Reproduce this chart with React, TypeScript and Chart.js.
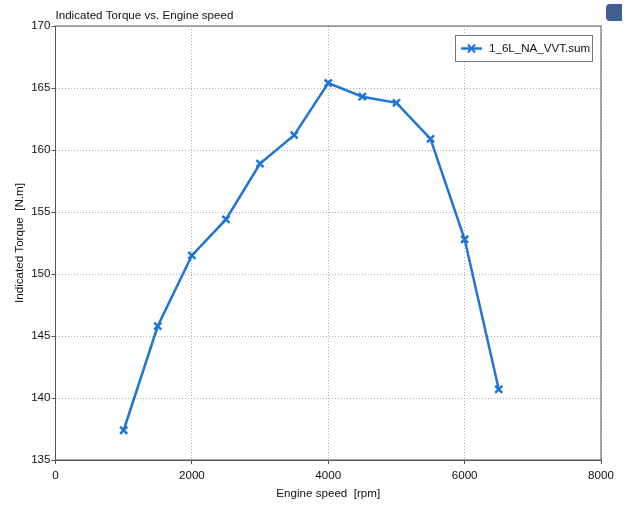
import React, { useEffect, useRef } from "react";
import { Chart, registerables } from "chart.js";

Chart.register(...registerables);

const speeds = [1000, 1500, 2000, 2500, 3000, 3500, 4000, 4500, 5000, 5500, 6000, 6500];
const torque = [137.4, 145.8, 151.5, 154.4, 158.9, 161.2, 165.4, 164.3, 163.8, 160.9, 152.8, 140.7];
const seriesName = "1_6L_NA_VVT.sum";
const titleText = "Indicated Torque vs. Engine speed";
const xTitle = "Engine speed  [rpm]";
const yTitle = "Indicated Torque  [N.m]";

const FONT = "'Liberation Sans', Arial, sans-serif";
const FS = 11.6;
const BLUE = "#1f74d4";

export default function App() {
  const ref = useRef<HTMLCanvasElement>(null);
  useEffect(() => {
    const overlay = {
      id: "overlay",
      afterDraw(chart: any) {
        const { ctx, chartArea } = chart;
        const { left, right, top, bottom } = chartArea;
        ctx.save();
        ctx.strokeStyle = "#555";
        ctx.lineWidth = 1;
        ctx.strokeRect(left, top, right - left, bottom - top);
        // title
        ctx.fillStyle = "#111";
        ctx.font = `${FS}px ${FONT}`;
        ctx.textBaseline = "middle";
        ctx.textAlign = "left";
        ctx.fillText(titleText, left, 16);
        // legend
        const lx = 455, ly = 35, lw = 137, lh = 26;
        ctx.fillStyle = "#fff";
        ctx.fillRect(lx, ly, lw, lh);
        ctx.strokeStyle = "#777";
        ctx.strokeRect(lx + 0.5, ly + 0.5, lw, lh);
        const cy = ly + lh / 2 + 0.5;
        ctx.strokeStyle = BLUE;
        ctx.lineWidth = 2.5;
        ctx.beginPath();
        ctx.moveTo(lx + 6, cy);
        ctx.lineTo(lx + 27, cy);
        ctx.stroke();
        ctx.lineWidth = 2;
        ctx.beginPath();
        ctx.moveTo(lx + 13, cy - 4);
        ctx.lineTo(lx + 20, cy + 4);
        ctx.moveTo(lx + 20, cy - 4);
        ctx.lineTo(lx + 13, cy + 4);
        ctx.stroke();
        ctx.fillStyle = "#111";
        ctx.font = `${FS}px ${FONT}`;
        ctx.fillText(seriesName, lx + 34, cy);
        ctx.restore();
      },
    };
    const chart = new Chart(ref.current!, {
      type: "line",
      data: {
        datasets: [
          {
            label: seriesName,
            data: speeds.map((s, i) => ({ x: s, y: torque[i] })),
            borderColor: BLUE,
            backgroundColor: BLUE,
            borderWidth: 2.5,
            pointStyle: "crossRot",
            pointRadius: 5,
            pointBorderWidth: 2.5,
            pointBorderColor: BLUE,
            tension: 0,
          },
        ],
      },
      options: {
        animation: false,
        responsive: false,
        maintainAspectRatio: false,
        layout: { padding: { top: 26, right: 28, left: 0, bottom: 0 } },
        plugins: { legend: { display: false }, title: { display: false }, tooltip: { enabled: false } },
        scales: {
          x: {
            type: "linear",
            min: 0,
            max: 8000,
            afterFit: (s: any) => { s.height = 45; },
            ticks: {
              stepSize: 2000,
              color: "#111",
              font: { family: FONT, size: FS },
              padding: 5,
              maxRotation: 0,
              callback: (v: any) => String(v),
            },
            grid: { color: "#b0b0b0", tickColor: "#555", tickLength: 4, drawTicks: true },
            border: { display: true, color: "#555", dash: [1, 2] as any },
            title: { display: true, text: xTitle, color: "#111", font: { family: FONT, size: FS }, padding: { top: 6 } },
          },
          y: {
            min: 135,
            max: 170,
            afterFit: (s: any) => { s.width = 55.5; },
            ticks: { stepSize: 5, color: "#111", font: { family: FONT, size: FS }, padding: 1 },
            grid: { color: "#b0b0b0", tickColor: "#555", tickLength: 4 },
            border: { display: true, color: "#555" },
            title: { display: true, text: yTitle, color: "#111", font: { family: FONT, size: FS }, padding: { top: 13, bottom: 0 } },
          },
        },
      },
      plugins: [overlay],
    });
    (chart.options.scales as any).x.border.dash = [1, 2];
    (chart.options.scales as any).y.border.dash = [1, 2];
    chart.update();
    return () => chart.destroy();
  }, []);
  return (
    <div style={{ position: "fixed", left: 0, top: 0, width: 629, height: 505, background: "#fff" }}>
      <canvas ref={ref} width={629} height={505} style={{ width: 629, height: 505 }} />
      <div style={{ position: "absolute", left: 606, top: 4, width: 16, height: 17, background: "#3e5f8f", borderRadius: "4px 0 0 4px" }} />
    </div>
  );
}
